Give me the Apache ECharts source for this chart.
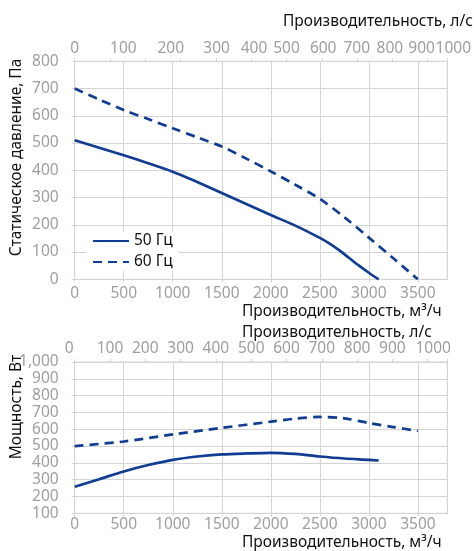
<!DOCTYPE html>
<html><head><meta charset="utf-8">
<script src="https://cdn.jsdelivr.net/npm/echarts@6/dist/echarts.min.js"></script>
<style>html,body{margin:0;padding:0;background:#fff}#c{width:474px;height:551px}</style>
</head><body><div id="c"></div>
<script>
// ---- data ----
const seriesNames = ['50 Гц', '60 Гц'];
// Static pressure (Pa) vs flow (m³/h)
const pFlow50 = [0, 250, 500, 750, 1000, 1250, 1500, 1750, 2000, 2250, 2500, 2600, 2700, 2800, 2900, 3000, 3100];
const pVal50  = [510, 483, 455, 426, 395, 357, 317, 276, 236, 197, 152, 131, 106, 78, 50, 24, 0];
const pFlow60 = [0, 250, 500, 750, 1000, 1250, 1500, 1750, 2000, 2250, 2500, 2750, 3000, 3250, 3500];
const pVal60  = [700, 660, 621, 588, 554, 521, 487, 443, 396, 347, 295, 228, 153, 77, 0];
// Power (W) vs flow (m³/h)
const wFlow50 = [0, 250, 500, 750, 1000, 1250, 1500, 1750, 2000, 2250, 2500, 2750, 3000, 3100];
const wVal50  = [258, 303, 349, 387, 418, 438, 450, 456, 460, 453, 438, 426, 418, 414];
const wFlow60 = [0, 500, 1000, 1500, 2000, 2250, 2500, 2750, 3000, 3250, 3500];
const wVal60  = [500, 527, 569, 608, 645, 663, 673, 665, 637, 613, 590];
// axis ticks
const flowMax = 3800;              // m³/h
const flowMaxLs = flowMax / 3.6;   // l/s
const lsTickLabels = ['0','100','200','300','400','500','600','700','800','900','1000'];
// where the l/s labels sit on the upper axis of the first chart (in l/s units)
const lsLabelAtTop = [0, 138, 272, 402, 508, 600, 704, 799, 893, 983, flowMaxLs];
const lsLabelAtBottom = [0, 100, 200, 300, 400, 500, 600, 700, 800, 900, 1000];

const BLUE = '#103d93';
const GRAY = '#9e9e9e';
const GRID = '#d4d4d4';
const FONT = 'Noto Sans';
const FS = 15.5;

function pairs(xs, ys) { return xs.map((x, i) => [x, ys[i]]); }

const chart = echarts.init(document.getElementById('c'), null, {renderer: 'canvas'});

function lsAxis(grid, positions, shiftFirst, shiftLast) {
  return {
    type: 'value', gridIndex: grid, position: 'top', min: 0, max: flowMaxLs, interval: 100,
    axisLine: {show: true, lineStyle: {color: GRID, width: 1}},
    axisTick: {show: true, length: 3, lineStyle: {color: GRID}},
    splitLine: {show: false},
    axisLabel: {
      customValues: positions, margin: 5, color: GRAY, fontFamily: FONT, fontSize: FS,
      formatter: function (v) {
        let i = positions.findIndex(p => Math.abs(p - v) < 1e-6);
        if (i < 0) return '';
        if (i === 0 && shiftFirst) return '{l|' + lsTickLabels[i] + '}';
        if (i === positions.length - 1 && shiftLast) return '{r|' + lsTickLabels[i] + '}';
        return lsTickLabels[i];
      },
      rich: {
        l: {color: GRAY, fontFamily: FONT, fontSize: FS, padding: [0, shiftFirst || 0, 0, 0]},
        r: {color: GRAY, fontFamily: FONT, fontSize: FS, padding: [0, 0, 0, shiftLast || 0]}
      }
    }
  };
}
function m3Axis(grid, margin) {
  return {
    type: 'value', gridIndex: grid, position: 'bottom', min: 0, max: flowMax, interval: 500,
    axisLine: {show: true, lineStyle: {color: GRID, width: 1}},
    axisTick: {show: true, length: 3, lineStyle: {color: GRID}},
    splitLine: {show: true, lineStyle: {color: GRID, width: 1}},
    axisLabel: {margin: margin, color: GRAY, fontFamily: FONT, fontSize: FS, showMaxLabel: false,
      formatter: v => (v > 3500 ? '' : String(v))}
  };
}
function yAxis(grid, min, max) {
  return {
    type: 'value', gridIndex: grid, min: min, max: max, interval: 100,
    axisLine: {show: true, lineStyle: {color: GRID, width: 1}},
    axisTick: {show: true, length: 3, lineStyle: {color: GRID}},
    splitLine: {show: true, lineStyle: {color: GRID, width: 1}},
    axisLabel: {margin: 16, color: GRAY, fontFamily: FONT, fontSize: FS}
  };
}
function line(name, data, xi, yi, dashed) {
  return {
    name: name, type: 'line', xAxisIndex: xi, yAxisIndex: yi, data: data,
    smooth: 0.3, symbol: 'none', showSymbol: false,
    lineStyle: {color: BLUE, width: 2.7, type: dashed ? [9, 6] : 'solid', cap: 'butt'},
    itemStyle: {color: BLUE}, z: 5
  };
}
function title(text, x, y, rot) {
  return {
    type: 'text', x: x, y: y, rotation: rot || 0, z: 10,
    style: {text: text, fill: '#111', font: FS + 'px "' + FONT + '"', align: rot ? 'center' : 'left', verticalAlign: 'middle'}
  };
}

chart.setOption({
  backgroundColor: '#fff',
  animation: false,
  grid: [
    {left: 74.7, top: 61.3, width: 372.6, height: 218, show: true, borderColor: GRID, borderWidth: 1, backgroundColor: 'transparent'},
    {left: 74.7, top: 362, width: 372.6, height: 151.3, show: true, borderColor: GRID, borderWidth: 1, backgroundColor: 'transparent'}
  ],
  xAxis: [
    m3Axis(0, 6),
    lsAxis(0, lsLabelAtTop, 0, 12),
    m3Axis(1, 3),
    lsAxis(1, lsLabelAtBottom, 11, 11)
  ],
  yAxis: [yAxis(0, 0, 800), yAxis(1, 100, 1000)],
  legend: {
    data: seriesNames, orient: 'vertical', left: 86, top: 232, padding: [1, 6, 1, 6],
    backgroundColor: '#fff', itemWidth: 36, itemHeight: 14, itemGap: 5,
    itemStyle: {color: 'rgba(0,0,0,0)', borderWidth: 0, opacity: 0},
    textStyle: {color: '#111', fontFamily: FONT, fontSize: FS}
  },
  series: [
    line(seriesNames[0], pairs(pFlow50, pVal50), 0, 0, false),
    line(seriesNames[1], pairs(pFlow60, pVal60), 0, 0, true),
    line(seriesNames[0], pairs(wFlow50, wVal50), 2, 1, false),
    line(seriesNames[1], pairs(wFlow60, wVal60), 2, 1, true)
  ],
  graphic: [
    title('Производительность, л/с', 283, 22),
    title('Производительность, м³/ч', 242, 312),
    title('Производительность, л/с', 242, 332.5),
    title('Производительность, м³/ч', 242, 542.5),
    title('Статическое давление, Па', 17, 157.5, Math.PI / 2),
    title('Мощность, Вт', 17, 407, Math.PI / 2)
  ]
});
</script></body></html>
